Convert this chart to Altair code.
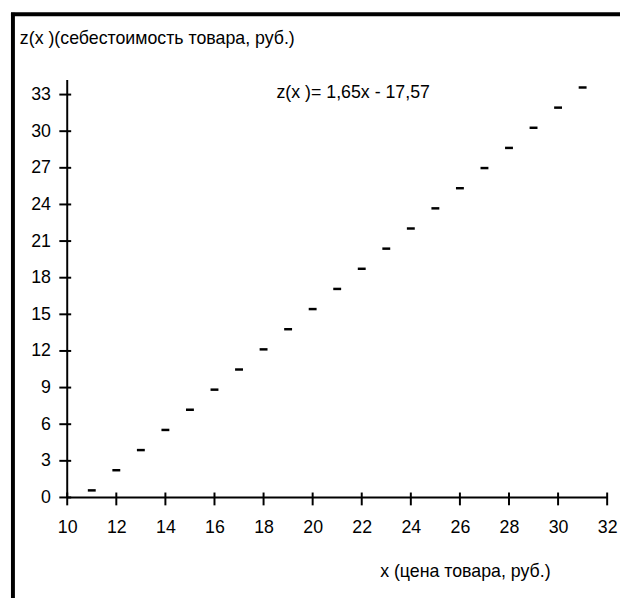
import altair as alt
import pandas as pd

# data
price = [11, 12, 13, 14, 15, 16, 17, 18, 19, 20, 21, 22, 23, 24, 25, 26, 27, 28, 29, 30, 31]
cost = [0.58, 2.23, 3.88, 5.53, 7.18, 8.83, 10.48, 12.13, 13.78, 15.43, 17.08,
        18.73, 20.38, 22.03, 23.68, 25.33, 26.98, 28.63, 30.28, 31.93, 33.58]
x_ticks = [10, 12, 14, 16, 18, 20, 22, 24, 26, 28, 30, 32]
y_ticks = [0, 3, 6, 9, 12, 15, 18, 21, 24, 27, 30, 33]
x_domain = [10, 32]
y_domain = [0, 34.2]
y_title = "z(x )(себестоимость товара, руб.)"
x_title = "x  (цена товара, руб.)"
equation = "z(x )= 1,65x -  17,57"

FONT = "Liberation Sans, Arial"
FS = 18
W, H = 547, 423

df = pd.DataFrame({"x": price, "z": cost})
xt = pd.DataFrame({"v": x_ticks, "y0": [y_domain[0]] * len(x_ticks)})
yt = pd.DataFrame({"v": y_ticks, "x0": [x_domain[0]] * len(y_ticks)})
# axis lines: anchored at the domain start and mid-point of the other axis
vline = pd.DataFrame({"lx": [x_domain[0]], "ly": [(y_domain[0] + y_domain[1]) / 2]})
hline = pd.DataFrame({"lx": [(x_domain[0] + x_domain[1]) / 2], "ly": [y_domain[0]]})

xs = alt.Scale(domain=x_domain, nice=False, zero=False)
ys = alt.Scale(domain=y_domain, nice=False, zero=False)

x_axis = alt.Axis(values=x_ticks, title=None, ticks=False, grid=False, domain=False,
                  labelPadding=21, labelOverlap=False, labelFlush=False,
                  labelFont=FONT, labelFontSize=FS, labelColor="black")
y_axis = alt.Axis(values=y_ticks, title=None, ticks=False, grid=False, domain=False,
                  labelPadding=17, labelOverlap=False, labelFlush=False,
                  labelFont=FONT, labelFontSize=FS, labelColor="black")

points = alt.Chart(df).mark_tick(orient="horizontal", size=8, thickness=2.5, color="black", opacity=1).encode(
    x=alt.X("x:Q", scale=xs, axis=x_axis),
    y=alt.Y("z:Q", scale=ys, axis=y_axis),
)

y_line = alt.Chart(vline).mark_tick(orient="vertical", size=H, thickness=2, color="black", opacity=1).encode(
    x=alt.X("lx:Q", scale=xs, axis=x_axis), y=alt.Y("ly:Q", scale=ys, axis=y_axis))
x_line = alt.Chart(hline).mark_tick(orient="horizontal", size=W, thickness=2, color="black", opacity=1).encode(
    x=alt.X("lx:Q", scale=xs, axis=x_axis), y=alt.Y("ly:Q", scale=ys, axis=y_axis))

ytick_marks = alt.Chart(yt).mark_tick(
    orient="horizontal", size=12, thickness=2, color="black", opacity=1, xOffset=-2).encode(
    x=alt.X("x0:Q", scale=xs, axis=x_axis), y=alt.Y("v:Q", scale=ys, axis=y_axis)
)
xtick_marks = alt.Chart(xt).mark_tick(
    orient="vertical", size=13, thickness=2, color="black", opacity=1, yOffset=1.5).encode(
    x=alt.X("v:Q", scale=xs, axis=x_axis), y=alt.Y("y0:Q", scale=ys, axis=y_axis)
)

ttl = alt.Chart(pd.DataFrame({"t": [y_title]})).mark_text(align="left", baseline="alphabetic", font=FONT, fontSize=FS, color="black").encode(
    x=alt.value(-48), y=alt.value(-36), text="t:N")
eq = alt.Chart(pd.DataFrame({"t": [equation]})).mark_text(align="left", baseline="alphabetic", font=FONT, fontSize=FS, color="black").encode(
    x=alt.value(212), y=alt.value(18), text="t:N")
xl = alt.Chart(pd.DataFrame({"t": [x_title]})).mark_text(align="left", baseline="alphabetic", font=FONT, fontSize=FS, color="black").encode(
    x=alt.value(317), y=alt.value(504), text="t:N")

frame_top = alt.Chart(pd.DataFrame({"a": [0]})).mark_rule(color="black", strokeWidth=4).encode(
    x=alt.value(-57), x2=alt.value(580), y=alt.value(-66.5))
frame_left = alt.Chart(pd.DataFrame({"a": [0]})).mark_rule(color="black", strokeWidth=4).encode(
    x=alt.value(-55), y=alt.value(-68), y2=alt.value(540))

chart = alt.layer(y_line, x_line, points, ytick_marks, xtick_marks, ttl, eq, xl, frame_top, frame_left).properties(
    width=W, height=H,
    autosize=alt.AutoSizeParams(type="none"),
    padding={"left": 60, "top": 69, "right": 13, "bottom": 98},
).configure(background="white").configure_view(strokeWidth=0)

chart.save("out.html", embed_options={"renderer": "svg", "actions": False})
